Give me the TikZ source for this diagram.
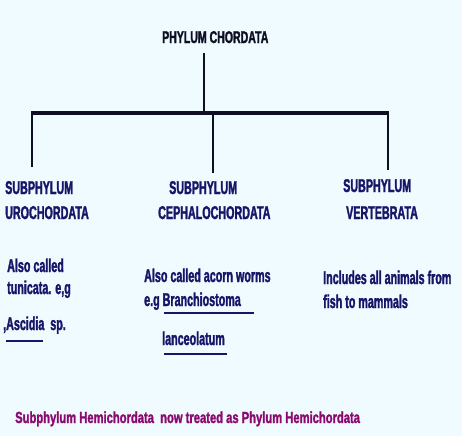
\documentclass[tikz,border=0pt]{standalone}
\usepackage{fontspec}
\setmainfont{Liberation Sans}
\newfontfamily\cond{Liberation Sans}[UprightFeatures={FakeStretch=0.58,FakeBold=1.6}, BoldFeatures={FakeStretch=0.58,FakeBold=1.6}]
\newfontfamily\condt{Liberation Sans}[UprightFeatures={FakeStretch=0.62,FakeBold=1.6}, BoldFeatures={FakeStretch=0.62,FakeBold=1.6}]
\newfontfamily\condn{Liberation Sans}[UprightFeatures={FakeStretch=0.7,FakeBold=1.6}, BoldFeatures={FakeStretch=0.7,FakeBold=1.6}]
\definecolor{bg}{RGB}{240,251,255}
\definecolor{navy}{RGB}{22,22,105}
\definecolor{ink}{RGB}{15,15,35}
\definecolor{plum}{RGB}{140,10,110}
\tikzset{
  lbl/.style={anchor=base west, inner sep=0pt, text=navy, font=\cond\bfseries\fontsize{18.5}{20}\selectfont},
  ttl/.style={lbl, text=ink, font=\condt\bfseries\fontsize{17}{20}\selectfont},
  note/.style={lbl, text=plum, font=\condn\bfseries\fontsize{16}{20}\selectfont},
  trunk/.style={draw=ink, line width=2pt},
  bar/.style={draw=ink, line width=3.5pt},
  uline/.style={draw=navy, line width=2pt}
}
\begin{document}
\begin{tikzpicture}[x=1pt,y=-1pt]
\fill[bg] (0,0) rectangle (462,436);
\useasboundingbox (0,0) rectangle (462,436);
\node[ttl] (title) at (162,43) {PHYLUM CHORDATA};
\coordinate (top) at (204,53);
\coordinate (hub) at (204,113);
\coordinate (bl) at (31,113);
\coordinate (br) at (389,113);
\coordinate (jl) at (32,113);
\coordinate (jm) at (213,113);
\coordinate (jr) at (388,113);
\coordinate (el) at (32,167);
\coordinate (em) at (213,173);
\coordinate (er) at (388,170);
\draw[trunk] (top) -- (hub);
\draw[bar] (bl) -- (br);
\draw[trunk] (jl) -- (el);
\draw[trunk] (jm) -- (em);
\draw[trunk] (jr) -- (er);

\node[lbl] (s1) at (5,194) {SUBPHYLUM};
\node[lbl] (u1) at (5,219) {UROCHORDATA};
\node[lbl] (s2) at (169,194) {SUBPHYLUM};
\node[lbl] (c2) at (158,219) {CEPHALOCHORDATA};
\node[lbl] (s3) at (343,192) {SUBPHYLUM};
\node[lbl] (v3) at (346,219) {VERTEBRATA};

\node[lbl] (a1) at (7,272) {Also called};
\node[lbl] (a2) at (7,294) {tunicata. e,g};
\node[lbl] (a3) at (3,330) {,Ascidia\ \ sp.};
\coordinate (ua1) at (6,341);
\coordinate (ua2) at (43,341);
\draw[uline] (ua1) -- (ua2);

\node[lbl] (b1) at (144,282) {Also called acorn worms};
\node[lbl] (b2) at (144,306) {e.g Branchiostoma};
\coordinate (ub1) at (164,313);
\coordinate (ub2) at (254,313);
\draw[uline] (ub1) -- (ub2);
\node[lbl] (b3) at (162,345) {lanceolatum};
\coordinate (uc1) at (164,354);
\coordinate (uc2) at (227,354);
\draw[uline] (uc1) -- (uc2);

\node[lbl] (r1) at (323,284) {Includes all animals from};
\node[lbl] (r2) at (323,308) {fish to mammals};

\node[note] (n) at (15,423) {Subphylum Hemichordata\ \ now treated as Phylum Hemichordata};
\end{tikzpicture}
\end{document}
